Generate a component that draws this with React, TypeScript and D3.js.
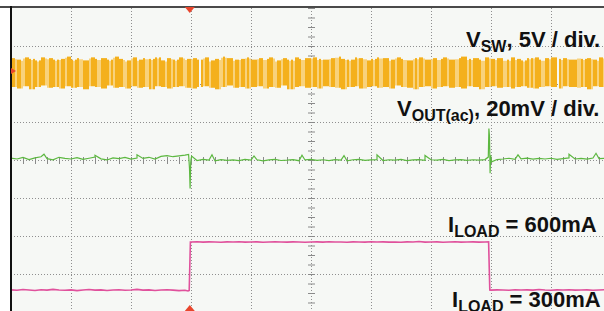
import React from "react";
import * as d3 from "d3";

const W = 604;
const H = 311;

// time in scope divisions (10 div across), sampled every 0.1 div
const sampleTimes = d3.range(0, 101).map((i) => i / 10);
const triggerTime = 2.98;

// switch node, volts (5V / div)
const vswHigh = [
  3.8, 3.6, 3.9, 3.7, 3.5, 3.9, 3.8, 3.6, 3.7, 4.0,
  3.6, 3.8, 3.5, 3.9, 3.7, 3.8, 3.6, 4.0, 3.7, 3.5,
  3.9, 3.6, 3.8, 3.7, 3.9, 3.5, 3.8, 3.6, 3.9, 3.7,
  3.8, 3.6, 3.9, 3.5, 3.7, 4.0, 3.8, 3.6, 3.7, 3.9,
  3.6, 3.8, 3.7, 3.9, 3.5, 3.8, 3.6, 3.9, 3.7, 3.8,
  3.9, 3.7, 3.6, 3.8, 4.0, 3.7, 3.6, 3.9, 3.8, 3.5,
  3.7, 3.9, 3.8, 3.6, 3.9, 3.7, 3.5, 3.8, 3.9, 3.6,
  3.8, 3.7, 3.9, 3.6, 3.8, 4.0, 3.7, 3.8, 3.6, 3.9,
  3.7, 3.8, 3.6, 3.9, 3.7, 3.5, 3.8, 3.9, 3.6, 3.8,
  3.9, 3.7, 3.8, 3.6, 3.9, 3.7, 3.8, 3.6, 3.9, 3.7,
];
const vswLow = [
  0.0, -0.2, 0.1, -0.3, 0.0, 0.2, -0.1, 0.0, -0.2, 0.1,
  -0.1, 0.0, -0.3, 0.1, 0.0, -0.2, 0.2, -0.1, 0.0, -0.2,
  0.1, -0.1, 0.0, -0.3, 0.1, 0.0, -0.2, 0.0, 0.1, -0.1,
  -0.2, 0.0, 0.1, -0.1, -0.3, 0.0, 0.2, -0.1, 0.0, -0.2,
  0.0, 0.1, -0.2, 0.0, -0.1, 0.2, -0.3, 0.0, 0.1, -0.1,
  0.0, -0.2, 0.1, 0.0, -0.1, -0.3, 0.0, 0.1, -0.2, 0.0,
  0.1, -0.1, 0.0, -0.2, 0.2, 0.0, -0.1, -0.3, 0.0, 0.1,
  -0.2, 0.0, 0.1, -0.1, 0.0, -0.2, 0.1, 0.0, -0.3, 0.0,
  0.1, -0.1, 0.0, -0.2, 0.0, 0.1, -0.1, -0.2, 0.0, 0.1,
  0.0, -0.2, 0.1, 0.0, -0.1, 0.0, -0.3, 0.1, 0.0, -0.1,
];
// column shading of the aliased switching trace: d = dark, l = light, g = gap
const vswShade =
  "ddlddlldddlddldddlldddldlddldddlddlldddldddllddddldlddddlld" +
  "dlddldddlldlddldddlddldldddllddldddgdlddlddddlldldddlddlddld" +
  "ldddlddlldddllddldddldldddlldddlddldldddlddlldddldldddlddlld";

// output ripple, mV (20mV / div)
const voutValues = [
  0.5, 0.0, 0.8, -0.3, 0.6, 1.2, 0.2, -0.4, 0.9, 0.3,
  0.0, 0.7, -0.2, 0.4, 1.0, 0.1, -0.5, 0.6, 0.2, 0.8,
  -0.1, 0.5, 0.3, 0.9, 0.0, 1.4, 1.8, 1.2, 1.6, 2.0,
  -0.4, -0.8, -0.2, -0.6, -1.0, -0.3, -0.7, -0.5, -0.9, -0.2,
  -0.6, -0.4, -1.0, -0.5, -0.2, -0.8, -0.6, -0.3, -0.9, -0.5,
  -0.2, -0.7, -0.4, -0.8, -0.3, -0.6, -1.0, -0.4, -0.2, -0.7,
  -0.5, -0.3, -0.8, -0.4, -0.6, -0.2, -0.9, -0.5, -0.3, -0.7,
  -0.4, -0.6, -0.2, -0.8, -0.5, -0.3, -0.7, -0.4, -0.6, -0.3,
  0.2, -0.3, 0.0, 0.4, -0.2, 0.1, 0.5, -0.1, 0.3, 0.0,
  0.4, -0.2, 0.2, 0.6, 0.0, 0.3, -0.1, 0.5, 0.2, 0.4,
  0.1,
];
const voutSpikes: [number, number][] = [
  [0.55, 2.5], [1.4, 2.0], [2.1, 2.2], [2.96, 2.4], [2.975, -5],
  [2.985, -15.5], [2.995, -2], [3.01, 1.5], [3.35, 2.2], [4.05, 1.6],
  [4.85, 2.0], [5.55, 1.8], [6.1, 2.2], [6.9, 1.9], [7.955, 1],
  [7.965, 16], [7.975, 12], [7.985, -7.5], [7.995, 2], [8.01, -1.5],
  [8.45, 2.2], [9.3, 2.5], [9.75, 3],
];

// load current, mA
const iloadValues = [
  301, 298, 303, 300, 297, 302, 299, 304, 300, 298,
  301, 296, 300, 303, 299, 301, 297, 300, 302, 298,
  300, 304, 299, 301, 297, 300, 302, 299, 296, 298,
  600, 602, 599, 601, 600, 598, 601, 600, 602, 599,
  600, 601, 598, 600, 602, 600, 599, 601, 600, 598,
  600, 601, 599, 602, 600, 600, 598, 601, 600, 599,
  602, 600, 601, 599, 600, 598, 601, 600, 603, 599,
  600, 601, 598, 600, 602, 599, 600, 601, 599, 600,
  299, 301, 300, 298, 302, 300, 301, 299, 303, 300,
  298, 301, 300, 302, 299, 300, 301, 298, 300, 302,
  300,
];
const iloadEdges: [number, number][] = [
  [2.95, 294], [2.97, 297], [2.99, 600], [7.96, 601], [7.98, 300],
];

const x = d3.scaleLinear().domain([0, 10]).range([11, 611]);
const yDiv = d3.scaleLinear().domain([0, 8]).range([8, 312]);
const vswY = d3.scaleLinear().domain([0, 5]).range([87, 49]);
const voutY = d3.scaleLinear().domain([0, 20]).range([159, 121]);
const iloadY = d3.scaleLinear().domain([300, 600]).range([290, 242]);

const merge = (base: number[], extra: [number, number][]) =>
  sampleTimes
    .map((t, i) => [t, base[i]] as [number, number])
    .concat(extra)
    .sort((a, b) => a[0] - b[0]);

const App = () => {
  const voutLine = d3
    .line<[number, number]>()
    .x((d) => x(d[0]))
    .y((d) => voutY(d[1]));
  const iloadLine = d3
    .line<[number, number]>()
    .x((d) => x(d[0]))
    .y((d) => iloadY(d[1]));

  // columns of the switching trace, 2px wide
  const colW = 2;
  const cols = d3.range(x(0), W, colW).map((px, i) => {
    const t = x.invert(px);
    const k = Math.min(99, Math.floor(t * 10));
    const s = vswShade[i % vswShade.length];
    return { px, s, hi: vswHigh[k] - (s === "l" ? 0.15 : 0), lo: vswLow[k] };
  });

  const gridX = d3.range(1, 10);
  const gridY = d3.range(1, 8);
  const ticksV = d3.range(0, 8.01, 0.25);
  const ticksH = d3.range(0, 10.01, 0.2);

  const labelStyle = {
    fontFamily: "'Liberation Sans', Arial, sans-serif",
    fontWeight: 700,
    fontSize: 22,
    fill: "#111",
  } as React.CSSProperties;

  return (
    <svg width={W} height={H} style={{ position: "absolute", left: 0, top: 0, display: "block" }}>
      <rect width={W} height={H} fill="#ffffff" />
      <rect x={11} y={7} width={W} height={H} fill="#f6f8f5" />

      {/* grid */}
      <g stroke="#8f8f8f" strokeWidth={1} strokeDasharray="1 2">
        {gridX.map((d) => (
          <line key={"gx" + d} x1={x(d) + 0.5} x2={x(d) + 0.5} y1={8} y2={H} />
        ))}
        {gridY.map((d) => (
          <line key={"gy" + d} x1={11} x2={W} y1={yDiv(d) + 0.5} y2={yDiv(d) + 0.5} />
        ))}
      </g>
      <g stroke="#8a8a8a" strokeWidth={1}>
        {ticksV.map((d) => (
          <line key={"tv" + d} x1={x(5) - 3} x2={x(5) + 4} y1={yDiv(d) + 0.5} y2={yDiv(d) + 0.5} />
        ))}
        {ticksH.map((d) => (
          <line key={"th" + d} x1={x(d) + 0.5} x2={x(d) + 0.5} y1={yDiv(4) - 3} y2={yDiv(4) + 4} />
        ))}
      </g>

      {/* V_SW */}
      <g>
        {cols
          .filter((c) => c.s !== "g")
          .map((c, i) => (
            <rect
              key={"c" + i}
              x={c.px}
              y={vswY(c.hi)}
              width={colW}
              height={vswY(c.lo) - vswY(c.hi)}
              fill={c.s === "l" ? "#f8d27c" : "#f4b01c"}
            />
          ))}
      </g>

      {/* V_OUT */}
      <path d={voutLine(merge(voutValues, voutSpikes)) || ""} fill="none" stroke="#5cb840" strokeWidth={1.2} />

      {/* I_LOAD */}
      <path d={iloadLine(merge(iloadValues, iloadEdges)) || ""} fill="none" stroke="#e0519c" strokeWidth={1.6} />

      {/* frame */}
      <rect x={0} y={6} width={W} height={2} fill="#4a4a4a" />
      <rect x={10} y={6} width={2} height={H} fill="#111" />

      {/* markers */}
      <path
        d={`M${x(triggerTime) - 5},7 L${x(triggerTime) + 5},7 L${x(triggerTime)},13 Z`}
        fill="#e8452c"
      />
      <path
        d={`M${x(triggerTime) - 5},${H} L${x(triggerTime) + 5},${H} L${x(triggerTime)},${H - 6} Z`}
        fill="#e8452c"
      />
      <path d={`M11,${vswY(2.1) - 3} L16,${vswY(2.1)} L11,${vswY(2.1) + 3} Z`} fill="#e8452c" />

      {/* labels */}
      <text x={466} y={47} style={labelStyle}>
        V<tspan fontSize={16} dy={5}>SW</tspan>
        <tspan dy={-5}>, 5V / div.</tspan>
      </text>
      <text x={397} y={116} style={labelStyle}>
        V<tspan fontSize={16} dy={5}>OUT(ac)</tspan>
        <tspan dy={-5}>, 20mV / div.</tspan>
      </text>
      <text x={448} y={232} style={labelStyle}>
        I<tspan fontSize={16} dy={5}>LOAD</tspan>
        <tspan dy={-5}> = 600mA</tspan>
      </text>
      <text x={452} y={307} style={labelStyle}>
        I<tspan fontSize={16} dy={5}>LOAD</tspan>
        <tspan dy={-5}> = 300mA</tspan>
      </text>
    </svg>
  );
};

export default App;
